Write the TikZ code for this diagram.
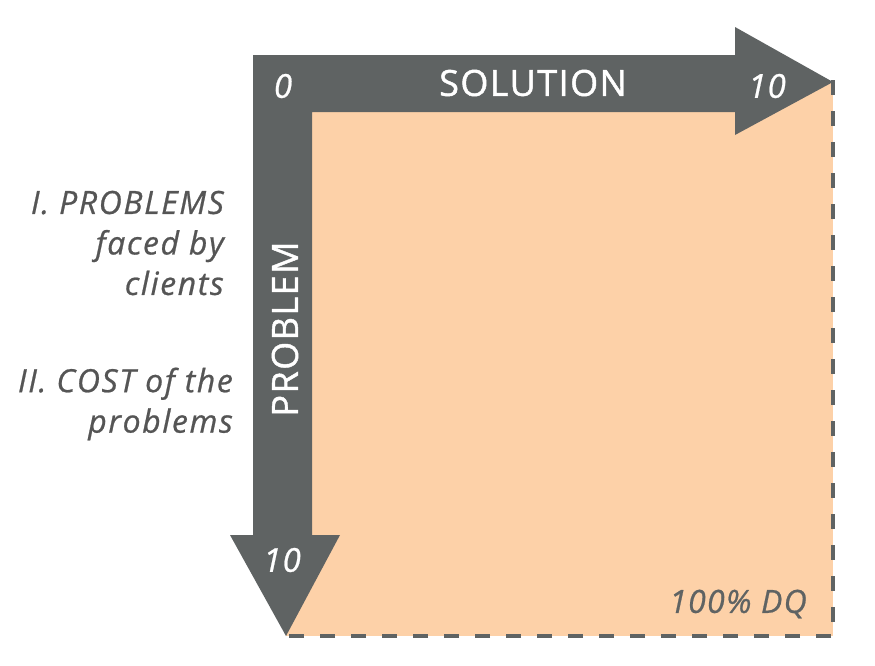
\documentclass[tikz,border=0pt]{standalone}
\usepackage{fontspec}
\setmainfont{Open Sans}
\newfontfamily\axisfont[FakeBold=1.2, LetterSpace=4]{Open Sans}
\newfontfamily\sidefont[FakeBold=0.7, LetterSpace=4]{Open Sans}
\newfontfamily\widefont[FakeBold=0.7, LetterSpace=5]{Open Sans}
\definecolor{arrowgray}{RGB}{95,99,99}
\definecolor{peach}{RGB}{253,209,168}
\definecolor{textgray}{RGB}{85,85,85}
\begin{document}
\begin{tikzpicture}[x=1pt,y=-1pt,
  axislabel/.style={text=white, font=\axisfont\fontsize{36}{36}\selectfont, inner sep=0},
  tick/.style={text=white, font=\sidefont\fontsize{33}{33}\selectfont\itshape, inner sep=0},
  side/.style={text=textgray, font=\widefont\fontsize{32}{40.5}\selectfont\itshape, align=right, anchor=east, inner sep=0}]
\useasboundingbox (0,0) rectangle (875,665);
\fill[peach] (286,82) rectangle (833,636);
\draw[arrowgray, line width=4.5pt, dash pattern=on 15pt off 16pt] (833,80) -- (833,636) -- (286,636);
\fill[arrowgray] (253,55) -- (735,55) -- (735,27) -- (833,82) -- (735,135) -- (735,112)
  -- (312,112) -- (312,535) -- (340,535) -- (286,636) -- (230,535) -- (253,535) -- cycle;
\node[tick] (zero) at (283,86) {0};
\node[axislabel] (solution) at (533,83) {SOLUTION};
\node[tick] (ten) at (767,86) {10};
\node[axislabel, rotate=90] (problem) at (285,329) {PROBLEM};
\node[tick] (tenb) at (282,560) {10};
\node[side] (p1) at (224,243) {I. PROBLEMS\\faced by\\clients};
\node[side] (p2) at (233,404) {II. COST of the\\problems};
\node[text=arrowgray, font=\sidefont\fontsize{32}{32}\selectfont\itshape, inner sep=0] (dq) at (738,604) {100\% DQ};
\end{tikzpicture}
\end{document}
